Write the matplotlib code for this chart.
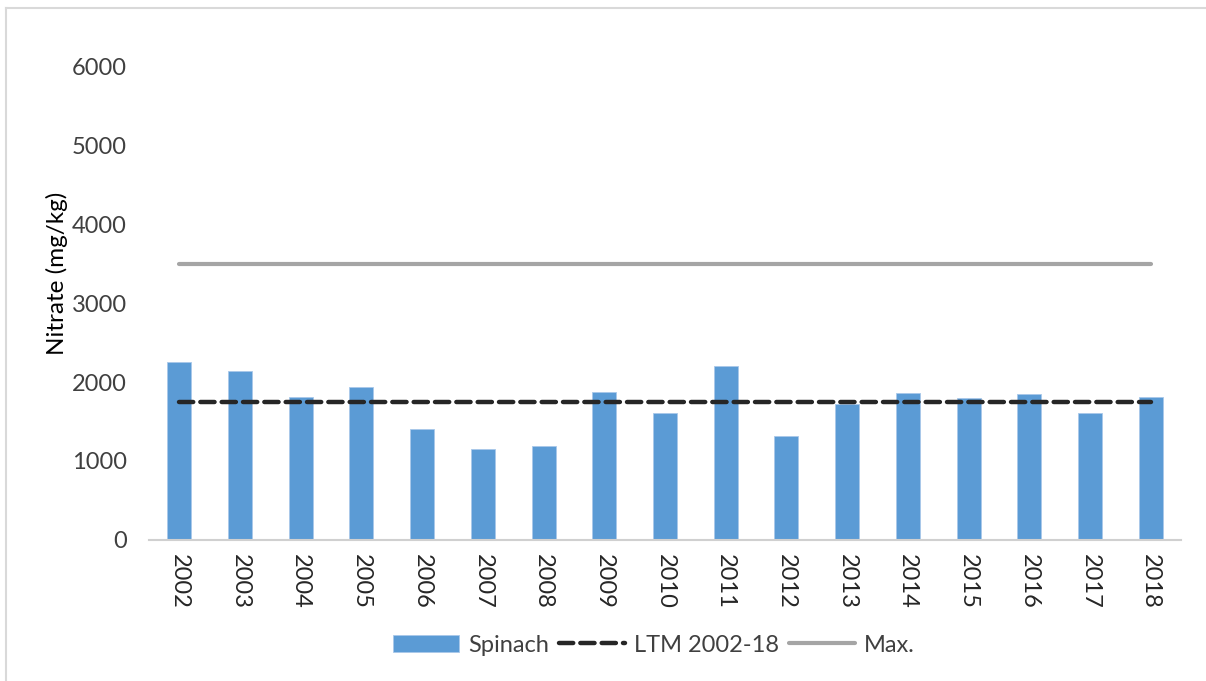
import matplotlib.pyplot as plt
from matplotlib.lines import Line2D

years = ['2002', '2003', '2004', '2005', '2006', '2007', '2008', '2009', '2010',
         '2011', '2012', '2013', '2014', '2015', '2016', '2017', '2018']
spinach = [2251, 2137, 1815, 1942, 1409, 1151, 1185, 1878, 1604,
           2200, 1312, 1718, 1862, 1794, 1845, 1604, 1815]
ltm = [1745] * len(years)
max_level = [3500] * len(years)

plt.rcParams['font.family'] = ['Lato', 'DejaVu Sans']

fig = plt.figure(figsize=(12.06, 6.81), dpi=100)
ax = fig.add_axes([149 / 1206, 1 - 539.7 / 681, (1181 - 149) / 1206, (539.7 - 66.7) / 681])

x = list(range(len(years)))
ax.bar(x, spinach, width=0.395, color='#5b9bd5', edgecolor='#a9c8ea', linewidth=0.6,
       label='Spinach', zorder=2)
ax.plot(x, ltm, color='#262626', linestyle=(0, (3.2, 1.6)), linewidth=3.2,
        dash_capstyle='round', label='LTM 2002-18', zorder=3)
ax.plot(x, max_level, color='#a5a5a5', linewidth=3, solid_capstyle='round',
        label='Max.', zorder=3)

ax.set_xlim(-0.5, len(years) - 0.5)
ax.set_ylim(0, 6000)
ax.set_yticks(range(0, 6001, 1000))
ax.set_xticks(x)
ax.set_xticklabels(years, rotation=-90)
ax.tick_params(axis='both', length=0, labelsize=17, colors='#404040')
ax.tick_params(axis='x', pad=10, colors='#262626')
ax.tick_params(axis='y', pad=16)
ax.set_ylabel('Nitrate (mg/kg)', fontsize=17.5, color='#000000')
ax.yaxis.set_label_coords(-0.0785, 0.562)

for side in ['top', 'right', 'left']:
    ax.spines[side].set_visible(False)
ax.spines['bottom'].set_color('#d0d0d0')
ax.spines['bottom'].set_linewidth(1.5)

# chart border (top and left edges visible)
fig.add_artist(Line2D([6 / 1206, 1], [1 - 8 / 681, 1 - 8 / 681], color='#d9d9d9', lw=1.5))
fig.add_artist(Line2D([6 / 1206, 6 / 1206], [0, 1 - 8 / 681], color='#d9d9d9', lw=1.5))

handles, labels = ax.get_legend_handles_labels()
order = [labels.index(n) for n in ['Spinach', 'LTM 2002-18', 'Max.']]
fig.legend([handles[i] for i in order], [labels[i] for i in order],
           loc='center', bbox_to_anchor=(654 / 1206, 1 - 645 / 681), ncol=3, frameon=False,
           fontsize=17, handlelength=2.8, handletextpad=0.4, columnspacing=0.4,
           labelcolor='#404040')

fig.savefig('out.png', dpi=100)
